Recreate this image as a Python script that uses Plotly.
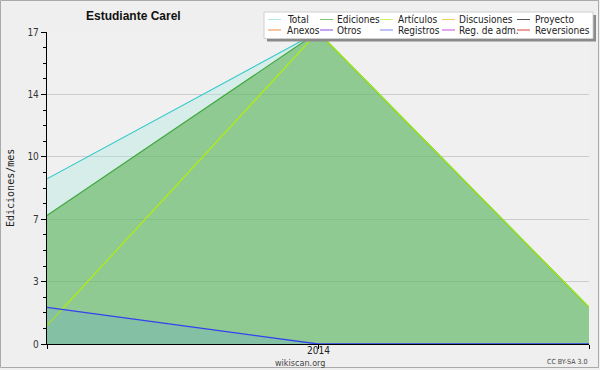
import plotly.graph_objects as go

# ---- data ----
months = ["2013-12-01", "2014-01-01", "2014-02-01"]
x_ticktext = ["", "2014", ""]
total = [9, 17, 2]
ediciones = [7, 17, 2]
articulos = [1, 17, 2]
registros = [2, 0, 0]

y_tickvals = [0, 3.4, 6.8, 10.2, 13.6, 17]
y_ticktext = ["0", "3", "7", "10", "14", "17"]

legend_row1 = ["Total", "Ediciones", "Artículos", "Discusiones", "Proyecto"]
legend_row2 = ["Anexos", "Otros", "Registros", "Reg. de adm.", "Reversiones"]
legend_col1 = ["#aee8e4", "#7cc47c", "#ccf566", "#f5cf5a", "#555555"]
legend_col2 = ["#f08a4b", "#8a44e6", "#7a86f0", "#c64fe0", "#e03a3a"]

title = "Estudiante Carel"
ytitle = "Ediciones/mes"

# ---- geometry helpers (pixel -> paper) ----
W, H = 600, 370
ML, MR, MT, MB = 47, 11, 32, 26
PW, PH = W - ML - MR, H - MT - MB


def fx(px):
    return (px - ML) / PW


def fy(py):
    return (H - MB - py) / PH


fig = go.Figure()
fig.add_trace(go.Scatter(x=months, y=total, mode="lines", line=dict(color="#33c9c9", width=1.1),
                         fill="tozeroy", fillcolor="rgba(170,232,220,0.35)", showlegend=False))
fig.add_trace(go.Scatter(x=months, y=ediciones, mode="lines", line=dict(color="#3fa83f", width=1.1),
                         fill="tozeroy", fillcolor="rgba(71,167,59,0.5)", showlegend=False))
fig.add_trace(go.Scatter(x=months, y=articulos, mode="lines", line=dict(color="#b5f000", width=1.1),
                         showlegend=False))
fig.add_trace(go.Scatter(x=months, y=registros, mode="lines", line=dict(color="#3540f0", width=1.3),
                         fill="tozeroy", fillcolor="rgba(72,135,255,0.15)", showlegend=False))

shapes = []
annotations = []

# outer frame
shapes.append(dict(type="rect", xref="paper", yref="paper",
                   x0=fx(0.5), x1=fx(598.5), y0=fy(0.5), y1=fy(367.5),
                   line=dict(color="#aaaaaa", width=1), layer="below"))

# legend box with shadow
lx0, lx1, ly0, ly1 = 264, 593, 12, 38.5
shapes.append(dict(type="rect", xref="paper", yref="paper",
                   x0=fx(lx0 + 3), x1=fx(lx1 + 3), y0=fy(ly0 + 3), y1=fy(ly1 + 3),
                   line=dict(width=0), fillcolor="#8a8a8a", layer="above"))
shapes.append(dict(type="rect", xref="paper", yref="paper",
                   x0=fx(lx0), x1=fx(lx1), y0=fy(ly0), y1=fy(ly1),
                   line=dict(color="#cfcfcf", width=1), fillcolor="#ffffff", layer="above"))

line_x = [268, 320, 380, 442, 517]
text_x = [285, 335, 396, 457, 533]
rows = [(legend_row1, legend_col1, 19.5), (legend_row2, legend_col2, 30)]
for names, cols, yc in rows:
    for i, (nm, c) in enumerate(zip(names, cols)):
        shapes.append(dict(type="line", xref="paper", yref="paper",
                           x0=fx(line_x[i]), x1=fx(line_x[i] + 13), y0=fy(yc), y1=fy(yc),
                           line=dict(color=c, width=1), layer="above"))
        annotations.append(dict(x=fx(text_x[i]), y=fy(yc), xref="paper", yref="paper",
                                text=nm, showarrow=False, xanchor="left", yanchor="middle",
                                font=dict(family="DejaVu Sans Condensed, DejaVu Sans", size=10, color="#222222")))

# x tick labels placed at the data positions (close to the axis as in the reference)
for xv, lab in zip(months, x_ticktext):
    if lab:
        annotations.append(dict(x=xv, y=fy(350.5), xref="x", yref="paper", text=lab,
                                showarrow=False, xanchor="center", yanchor="middle",
                                font=dict(family="DejaVu Sans Condensed, DejaVu Sans", size=10,
                                          color="#222222")))

# title
annotations.append(dict(x=fx(133), y=fy(16), xref="paper", yref="paper", text="<b>" + title + "</b>",
                        showarrow=False, xanchor="center", yanchor="middle",
                        font=dict(family="Liberation Sans, Arial", size=12, color="#111111")))
# y title
annotations.append(dict(x=fx(10), y=fy(188), xref="paper", yref="paper", text=ytitle, textangle=-90,
                        showarrow=False, xanchor="center", yanchor="middle",
                        font=dict(family="DejaVu Sans Mono", size=10, color="#222222")))
# footer texts
annotations.append(dict(x=fx(300), y=fy(362.5), xref="paper", yref="paper", text="wikiscan.org",
                        showarrow=False, xanchor="center", yanchor="middle",
                        font=dict(family="DejaVu Sans Condensed, DejaVu Sans", size=9, color="#444444")))
annotations.append(dict(x=fx(589), y=fy(362), xref="paper", yref="paper", text="CC BY-SA 3.0",
                        showarrow=False, xanchor="right", yanchor="middle",
                        font=dict(family="DejaVu Sans Condensed, DejaVu Sans", size=7, color="#444444")))

fig.update_layout(
    width=W, height=H,
    margin=dict(l=ML, r=MR, t=MT, b=MB, pad=0, autoexpand=False),
    paper_bgcolor="#efefef",
    plot_bgcolor="#f0f0f1",
    shapes=shapes,
    annotations=annotations,
    showlegend=False,
    xaxis=dict(
        type="date", range=[months[0], months[-1]], automargin=False,
        tickmode="array", tickvals=months, ticktext=["", "", ""],
        showgrid=False, zeroline=False,
        showline=True, linecolor="#000000", linewidth=1.3,
        ticks="outside", ticklen=4, tickcolor="#000000", tickwidth=1,
    ),
    yaxis=dict(
        range=[0, 17], automargin=False,
        tickmode="array", tickvals=y_tickvals, ticktext=y_ticktext,
        showgrid=True, gridcolor="#cccccc", gridwidth=1, zeroline=False,
        showline=True, linecolor="#000000", linewidth=1.3,
        ticks="outside", ticklen=5, tickcolor="#000000", tickwidth=1,
        tickfont=dict(family="DejaVu Sans Condensed, DejaVu Sans", size=10, color="#333333"),
        minor=dict(tickmode="linear", tick0=0, dtick=0.85, ticks="outside", ticklen=3,
                   tickcolor="#000000", tickwidth=1, showgrid=False),
    ),
)

fig.write_html("out.html")
